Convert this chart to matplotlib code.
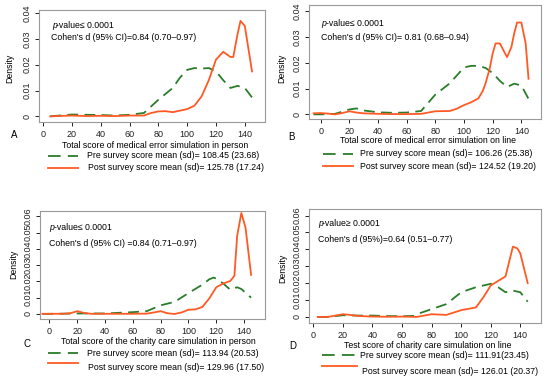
import matplotlib
matplotlib.use("Agg")
import matplotlib.pyplot as plt
from matplotlib.lines import Line2D

plt.rcParams['font.family'] = ['Liberation Sans', 'DejaVu Sans']

W, H = 550, 382
GREEN = '#2a7d2a'
ORANGE = '#ff5a24'

# ---- data ----
# panel A: medical error simulation in person
a_pre_x = [5, 20, 40, 50, 60, 70, 80, 90, 95, 100, 105, 110, 115, 120, 125, 130, 135, 140, 145]
a_pre_y = [0, 0.0007, 0.0005, 0.0003, 0.0006, 0.0013, 0.0064, 0.011, 0.015, 0.018, 0.0187, 0.0185,
           0.0187, 0.0174, 0.014, 0.011, 0.0118, 0.011, 0.0073]
a_post_x = [5, 20, 30, 40, 50, 60, 70, 75, 80, 85, 90, 95, 100, 105, 110, 115, 120, 125, 130, 132,
            135, 137, 140, 145]
a_post_y = [0, 0.0003, 0.0001, 0.0002, 0.0001, 0.0003, 0.0003, 0.0013, 0.0019, 0.002, 0.0016, 0.0022,
            0.0028, 0.0041, 0.0077, 0.014, 0.022, 0.025, 0.023, 0.023, 0.032, 0.037, 0.035, 0.0174]

# panel B: medical error simulation on line
b_pre_x = [-5, 0, 10, 20, 25, 30, 40, 50, 60, 70, 80, 90, 100, 105, 110, 115, 120, 125, 130, 135, 140, 145]
b_pre_y = [0, 0, 0.0002, 0.0019, 0.0023, 0.0015, 0.0008, 0.0006, 0.0007, 0.0013, 0.0077, 0.012,
           0.0182, 0.0188, 0.0188, 0.018, 0.016, 0.013, 0.0106, 0.0119, 0.0112, 0.006]
b_post_x = [-5, 0, 5, 10, 15, 20, 25, 30, 40, 50, 60, 70, 80, 90, 95, 100, 105, 110, 113, 115, 118,
            120, 122, 125, 128, 130, 133, 135, 137, 140, 143, 145]
b_post_y = [0.0004, 0.0005, 0.0003, 0.0, 0.0005, 0.0012, 0.0007, 0.0004, 0.0002, 0.0001, 0.0001,
            0.0002, 0.0012, 0.0013, 0.0022, 0.0036, 0.0047, 0.0062, 0.009, 0.012, 0.018, 0.0237,
            0.0275, 0.0275, 0.0243, 0.0222, 0.026, 0.0314, 0.0356, 0.0356, 0.0275, 0.0138]

# panel C: charity care simulation in person
c_pre_x = [-5, 20, 40, 60, 70, 80, 90, 100, 110, 115, 118, 120, 125, 130, 135, 138, 140, 145]
c_pre_y = [0, 0.0003, 0.0003, 0.0011, 0.0017, 0.0053, 0.0074, 0.0128, 0.018, 0.0213, 0.0223, 0.0217,
           0.0187, 0.0149, 0.0164, 0.0153, 0.0138, 0.01]
c_post_x = [-5, 10, 15, 20, 25, 30, 40, 50, 60, 70, 75, 80, 85, 90, 95, 100, 105, 110, 115, 120, 125,
            130, 133, 135, 138, 141, 145]
c_post_y = [0.0001, 0.0001, 0.0004, 0.0017, 0.0006, 0.0001, 0.0001, 0.0001, 0.0001, 0.0002, 0.0009,
            0.0017, 0.0004, 0.0, 0.0009, 0.0026, 0.0028, 0.0043, 0.0096, 0.0164, 0.0187, 0.0202,
            0.0234, 0.048, 0.062, 0.053, 0.024]

# panel D: charity care simulation on line
d_pre_x = [3, 10, 20, 30, 40, 50, 60, 68, 70, 80, 90, 100, 110, 120, 125, 130, 135, 140, 145]
d_pre_y = [0, 0, 0.001, 0.0008, 0.0008, 0.0005, 0.0004, 0.0006, 0.0016, 0.0046, 0.0076, 0.0146,
           0.0176, 0.0196, 0.0176, 0.0146, 0.0156, 0.0146, 0.009]
d_post_x = [3, 10, 20, 25, 30, 40, 50, 60, 70, 80, 90, 100, 110, 115, 120, 130, 135, 138, 140, 145]
d_post_y = [0, 0, 0.0016, 0.0012, 0.0006, 0.0002, 0.0001, 0.0002, 0.0, 0.0016, 0.0012, 0.004,
            0.0056, 0.0116, 0.0186, 0.024, 0.0416, 0.0406, 0.0376, 0.02]

x_ticks = [0, 20, 40, 60, 80, 100, 120, 140]
y_ticks_ab = [0, 0.01, 0.02, 0.03, 0.04]
y_labels_ab = ['0', '0.01', '0.02', '0.03', '0.04']
y_ticks_cd = [0, 0.01, 0.02, 0.03, 0.04, 0.05, 0.06]
y_labels_cd = ['0', '0.01', '0.02', '0.03', '0.04', '0.05', '0.06']

panels = [
    dict(box=(39, 10, 265, 122), xlim=(-2.8, 154), ylim=(-0.0022, 0.0412),
         pre=(a_pre_x, a_pre_y), post=(a_post_x, a_post_y), yt=(y_ticks_ab, y_labels_ab),
         ptxt='-value\u2264 0.0001', ppos=(52, 25), cohen="Cohen's d (95% CI)=0.84 (0.70\u20130.97)",
         cpos=(51, 37), letter='A', lpos=(14, 135), xlabel='Total score of medical error simulation in person',
         xlpos=(155, 145), ylpos=(10, 68),
         leg1=(48, 78, 156, 87, 'Pre survey score mean (sd)= 108.45 (23.68)'),
         leg2=(48, 78, 168, 88, 'Post survey score mean (sd)= 125.78 (17.24)')),
    dict(box=(309, 5, 541, 119), xlim=(-8.2, 153.7), ylim=(-0.0018, 0.0424),
         pre=(b_pre_x, b_pre_y), post=(b_post_x, b_post_y), yt=(y_ticks_ab, y_labels_ab),
         ptxt='-value\u2264 0.0001', ppos=(321, 24), cohen="Cohen's d (95% CI)= 0.81 (0.68\u20130.94)",
         cpos=(321, 38), letter='B', lpos=(291, 137), xlabel='Total score of medical error simulation on line',
         xlpos=(428, 140), ylpos=(282, 68),
         leg1=(323, 353, 154, 360, 'Pre survey score mean (sd)= 106.26 (25.38)'),
         leg2=(323, 353, 166, 360, 'Post survey score mean (sd)= 124.52 (19.20)')),
    dict(box=(40, 211, 265, 319), xlim=(-6.7, 155), ylim=(-0.0031, 0.0632),
         pre=(c_pre_x, c_pre_y), post=(c_post_x, c_post_y), yt=(y_ticks_cd, y_labels_cd),
         ptxt='-value\u2264 0.0001', ppos=(49, 228), cohen="Cohen's d (95% CI) =0.84 (0.71\u20130.97)",
         cpos=(49, 243), letter='C', lpos=(27, 344), xlabel='Total score of the charity care simulation in person',
         xlpos=(158, 341), ylpos=(14, 264),
         leg1=(48, 78, 353, 87, 'Pre survey score mean (sd)= 113.94 (20.53)'),
         leg2=(48, 78, 363, 88, 'Post survey score mean (sd)= 129.96 (17.50)'), post_dy=5),
    dict(box=(309, 209, 541, 323), xlim=(-2.9, 154), ylim=(-0.0036, 0.0639),
         pre=(d_pre_x, d_pre_y), post=(d_post_x, d_post_y), yt=(y_ticks_cd, y_labels_cd),
         ptxt='-value\u2265 0.0001', ppos=(318, 224), cohen="Cohen's d (95%)=0.64 (0.51\u20130.77)",
         cpos=(318, 239), letter='D', lpos=(293, 346), xlabel='Test score of charity care simulation on line',
         xlpos=(428, 345), ylpos=(283, 268),
         leg1=(322, 357, 355, 360, 'Pre survey score mean (sd)= 111.91(23.45)'),
         leg2=(322, 357, 366, 362, 'Post survey score mean (sd)= 126.01 (20.37)'), post_dy=6),
]

fig = plt.figure(figsize=(W / 100, H / 100), dpi=100)


def fx(x):
    return x / W


def fy(y):
    return 1 - y / H


FS = 6.3
for pn in panels:
    l, t, r, b = pn['box']
    ax = fig.add_axes([fx(l), fy(b), (r - l) / W, (b - t) / H])
    ax.plot(pn['pre'][0], pn['pre'][1], color=GREEN, lw=1.3, dashes=(6, 3.5))
    ax.plot(pn['post'][0], pn['post'][1], color=ORANGE, lw=1.3)
    ax.set_xlim(*pn['xlim'])
    ax.set_ylim(*pn['ylim'])
    ax.set_xticks(x_ticks)
    ax.set_yticks(pn['yt'][0])
    ax.set_yticklabels(pn['yt'][1], rotation=90, va='center')
    ax.tick_params(labelsize=6.5, length=3, width=0.7, pad=2.5, colors='#222222')
    for s in ax.spines.values():
        s.set_color('#9a9a9a')
        s.set_linewidth(0.8)

    px, py = pn['ppos']
    fig.text(fx(px), fy(py), 'p', fontsize=FS, style='italic', va='center', ha='left')
    fig.text(fx(px + 4.5), fy(py), pn['ptxt'], fontsize=FS, va='center', ha='left')
    cx, cy = pn['cpos']
    fig.text(fx(cx), fy(cy), pn['cohen'], fontsize=FS, va='center', ha='left')
    fig.text(fx(pn['lpos'][0]), fy(pn['lpos'][1]), pn['letter'], fontsize=7, va='center', ha='center')
    fig.text(fx(pn['xlpos'][0]), fy(pn['xlpos'][1]), pn['xlabel'], fontsize=FS, va='center', ha='center')
    fig.text(fx(pn['ylpos'][0]), fy(pn['ylpos'][1]), 'Density', fontsize=FS, va='center', ha='center',
             rotation=90)

    x0, x1, yy, tx, txt = pn['leg1']
    fig.add_artist(Line2D([fx(x0), fx(x1)], [fy(yy), fy(yy)], color=GREEN, lw=1.3, dashes=(7, 4)))
    fig.text(fx(tx), fy(yy), txt, fontsize=FS, va='center', ha='left')
    x0, x1, yy, tx, txt = pn['leg2']
    dy = pn.get('post_dy', 0)
    fig.add_artist(Line2D([fx(x0), fx(x1)], [fy(yy), fy(yy)], color=ORANGE, lw=1.3))
    fig.text(fx(tx), fy(yy + dy), txt, fontsize=FS, va='center', ha='left')

fig.savefig('out.png', dpi=100)
